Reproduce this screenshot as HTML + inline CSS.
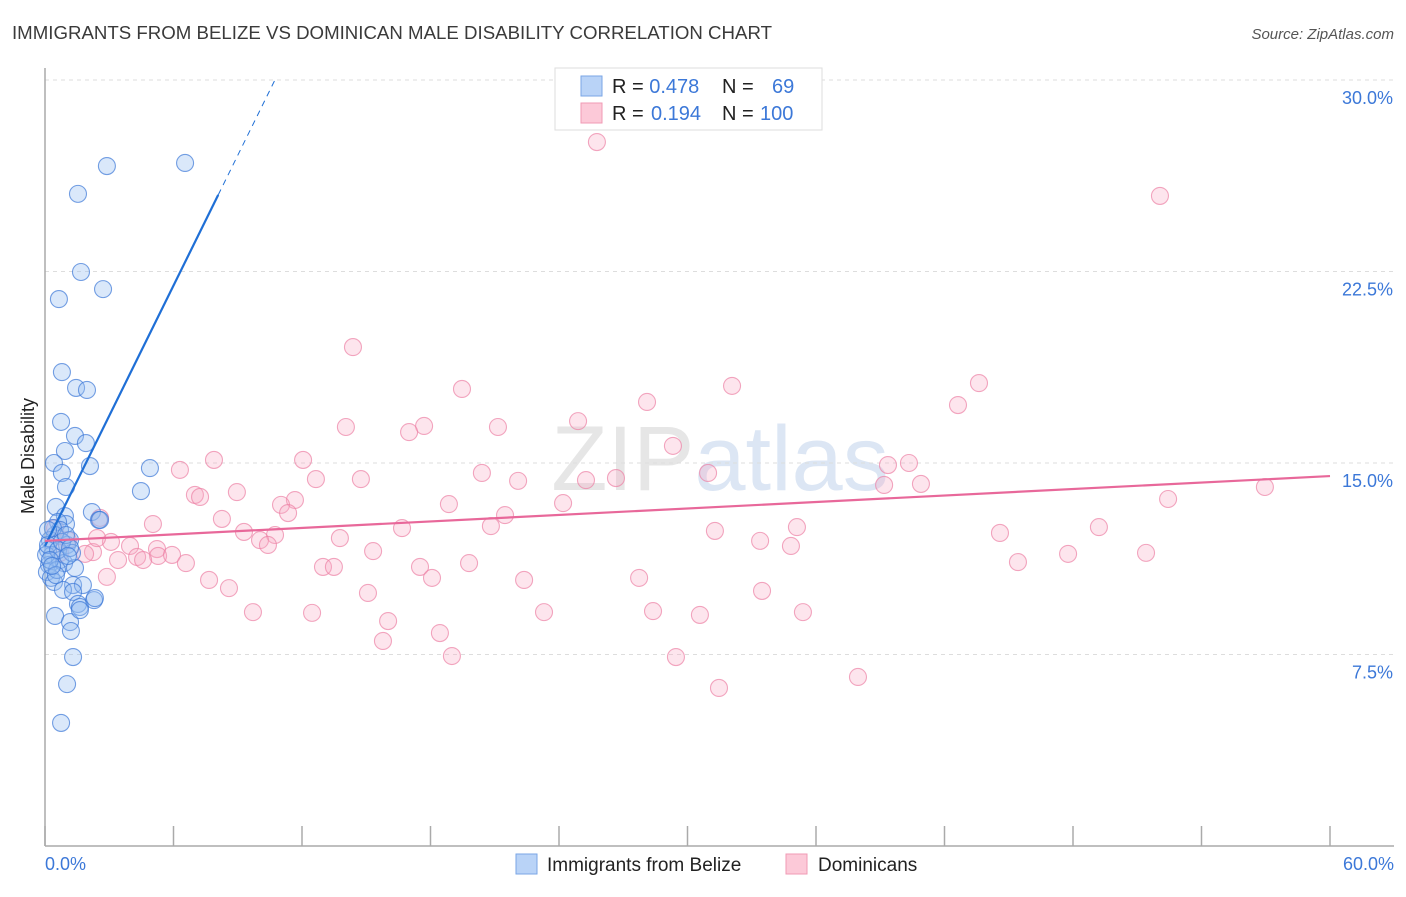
<!DOCTYPE html>
<html><head><meta charset="utf-8"><style>
body{margin:0;background:#fff;font-family:"Liberation Sans",sans-serif}
svg text{font-family:"Liberation Sans",sans-serif}
</style></head><body>
<svg id="chart" width="1406" height="892" xmlns="http://www.w3.org/2000/svg">
<text x="12" y="39" font-size="18" fill="#3a3a3a" textLength="760" lengthAdjust="spacingAndGlyphs">IMMIGRANTS FROM BELIZE VS DOMINICAN MALE DISABILITY CORRELATION CHART</text>
<text x="1394" y="39" font-size="15" fill="#555" text-anchor="end" font-style="italic">Source: ZipAtlas.com</text>
<text x="720" y="490" font-size="92" fill="#e6e6e6" text-anchor="middle" font-family="Liberation Serif">ZIP<tspan fill="#dce6f4" font-family="Liberation Sans">atlas</tspan></text>
<g id="grid"></g>
<line x1="45" y1="68" x2="45" y2="846" stroke="#aaa" stroke-width="1.5"/>
<line x1="45" y1="846" x2="1394" y2="846" stroke="#aaa" stroke-width="1.5"/>
<text transform="translate(34,456) rotate(-90)" font-size="18" fill="#222" text-anchor="middle">Male Disability</text>
<text x="45" y="870" font-size="18" fill="#3c78d8">0.0%</text>
<text x="1394" y="870" font-size="18" fill="#3c78d8" text-anchor="end">60.0%</text>
<g id="pts"></g>
<g id="lines"></g>
<g>
<rect x="555" y="68" width="267" height="62" fill="#fff" stroke="#ddd"/>
<rect x="581" y="76" width="21" height="20" fill="#b9d3f7" stroke="#7aa6e6"/>
<rect x="581" y="103" width="21" height="20" fill="#fcc9d8" stroke="#f09ab4"/>
<text x="612" y="93" font-size="20" fill="#222">R = <tspan fill="#3c78d8">0.478</tspan><tspan x="722">N = </tspan><tspan x="772" fill="#3c78d8">69</tspan></text>
<text x="612" y="120" font-size="20" fill="#222">R = <tspan x="651" fill="#3c78d8">0.194</tspan><tspan x="722">N = </tspan><tspan x="760" fill="#3c78d8">100</tspan></text>
</g>
<g>
<rect x="516" y="854" width="21" height="20" fill="#b9d3f7" stroke="#7aa6e6"/>
<text x="547" y="871" font-size="19" fill="#222">Immigrants from Belize</text>
<rect x="786" y="854" width="21" height="20" fill="#fcc9d8" stroke="#f09ab4"/>
<text x="818" y="871" font-size="19" fill="#222">Dominicans</text>
</g>
</svg>
<script>
const yTicks=[7.5,15,22.5,30];
const yTickLabels=["7.5%","15.0%","22.5%","30.0%"];
const xTicks=[0,6,12,18,24,30,36,42,48,54,60];
const bluePx=[[107,166],[185,163],[78,194],[81,272],[59,299],[103,289],[62,372],[76,388],[87,390],[61,422],[75,436],[86,443],[65,451],[90,466],[54,463],[62,473],[66,487],[150,468],[141,491],[92,512],[99,520],[56,507],[65,516],[66,524],[58,522],[60,530],[55,535],[50,540],[48,550],[52,555],[49,565],[47,572],[51,578],[54,582],[60,560],[67,545],[70,540],[64,563],[57,570],[75,568],[73,585],[83,585],[63,590],[73,592],[78,604],[94,600],[80,607],[55,616],[70,622],[71,631],[73,657],[67,684],[61,723],[46,555],[48,545],[53,528],[58,550],[72,553],[62,542],[50,560],[56,575],[66,535],[70,548],[100,520],[80,610],[95,598],[48,530],[52,566],[68,556]];
const pinkPx=[[597,142],[1160,196],[353,347],[462,389],[732,386],[979,383],[647,402],[958,405],[346,427],[424,426],[409,432],[498,427],[578,421],[673,446],[303,460],[214,460],[180,470],[482,473],[316,479],[361,479],[518,481],[586,480],[616,478],[708,473],[888,465],[909,463],[884,485],[921,484],[195,495],[200,497],[237,492],[295,500],[281,505],[288,513],[449,504],[505,515],[563,503],[1168,499],[1265,487],[222,519],[153,524],[244,532],[275,535],[260,540],[268,545],[402,528],[491,526],[340,538],[797,527],[715,531],[760,541],[791,546],[1000,533],[1099,527],[111,542],[130,546],[157,549],[158,556],[137,557],[143,560],[172,555],[186,563],[118,560],[93,552],[85,554],[100,518],[373,551],[1068,554],[1146,553],[323,567],[334,567],[420,567],[469,563],[432,578],[524,580],[639,578],[107,577],[209,580],[229,588],[368,593],[762,591],[1018,562],[253,612],[312,613],[388,621],[544,612],[653,611],[700,615],[803,612],[440,633],[383,641],[452,656],[676,657],[719,688],[858,677],[68,540],[60,553],[55,528],[97,538]];
const blueX=bluePx.map(p=>+((p[0]-45)*60/1285).toFixed(2));
const blueY=bluePx.map(p=>+((846-p[1])*7.5/191.5).toFixed(2));
const pinkX=pinkPx.map(p=>+((p[0]-45)*60/1285).toFixed(2));
const pinkY=pinkPx.map(p=>+((846-p[1])*7.5/191.5).toFixed(2));
const blueTrend=[11.75,1.70];
const pinkTrend=[11.95,0.0423];
const NS="http://www.w3.org/2000/svg";
const sx=v=>45+v*1285/60, sy=v=>846-v*191.5/7.5;
function mk(t,a,p){const e=document.createElementNS(NS,t);for(const k in a)e.setAttribute(k,a[k]);p.appendChild(e);return e;}
const grid=document.getElementById('grid');
yTicks.forEach((t,i)=>{
 const l=mk('line',{x1:45,x2:1394,y1:sy(t),y2:sy(t),stroke:'#ddd','stroke-dasharray':'4,4'},grid);
 
 
 const tx=mk('text',{x:1393,y:sy(t)+24,'font-size':18,fill:'#3c78d8','text-anchor':'end'},grid);
 tx.textContent=yTickLabels[i];
 
 
});
xTicks.forEach(t=>{
 const l=mk('line',{x1:sx(t),x2:sx(t),y1:826,y2:846,stroke:'#aaa','stroke-width':1.5},grid);
 
 
});
const pts=document.getElementById('pts');
pinkX.forEach((x,i)=>{
 const c=mk('circle',{cx:sx(x),cy:sy(pinkY[i]),r:8.5,fill:'rgba(248,170,195,0.3)',stroke:'rgba(236,130,165,0.7)','stroke-width':1.1},pts);
 
 
});
blueX.forEach((x,i)=>{
 const c=mk('circle',{cx:sx(x),cy:sy(blueY[i]),r:8.5,fill:'rgba(150,190,240,0.35)',stroke:'rgba(60,120,215,0.7)','stroke-width':1.1},pts);
 
 
});
const lines=document.getElementById('lines');
const bEnd=(25.5-blueTrend[0])/blueTrend[1], bDash=(30-blueTrend[0])/blueTrend[1];
let l1=mk('line',{x1:sx(0),y1:sy(blueTrend[0]),x2:sx(bEnd),y2:sy(blueTrend[0]+blueTrend[1]*bEnd),stroke:'#1f6fd6','stroke-width':2.2},lines);


let l2=mk('line',{x1:sx(bEnd),y1:sy(blueTrend[0]+blueTrend[1]*bEnd),x2:sx(bDash),y2:sy(30),stroke:'#1f6fd6','stroke-width':1,'stroke-dasharray':'6,5'},lines);


let l3=mk('line',{x1:sx(0),y1:sy(pinkTrend[0]),x2:sx(60),y2:sy(pinkTrend[0]+pinkTrend[1]*60),stroke:'#e8689a','stroke-width':2.2},lines);


</script>
</body></html>
